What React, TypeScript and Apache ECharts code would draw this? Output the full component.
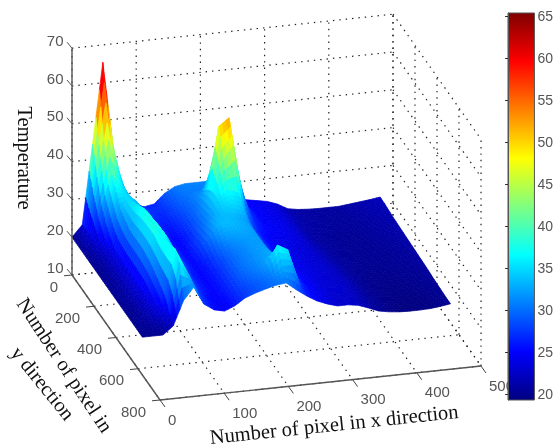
import React, { useEffect, useRef } from "react";
import * as echarts from "echarts";

const xTicks = [0, 100, 200, 300, 400, 500];
const yTicks = [0, 200, 400, 600, 800];
const zTicks = [10, 20, 30, 40, 50, 60, 70];
const colorTicks = [20, 25, 30, 35, 40, 45, 50, 55, 60, 65];
const colorMin = 19.3;
const colorMax = 65.36;

// surface samples: columns are pixel x, one row per pixel y
const surfaceX = [0, 16, 32, 48, 64, 80, 96, 112, 128, 144, 160, 176, 192, 208, 224, 240, 256, 272, 288, 304, 320, 336, 352, 368, 384, 400, 416, 432, 448, 464, 480];
const surfaceY = [0, 40, 80, 120, 160, 200, 240, 280, 320, 360, 400, 440, 480, 520, 560, 600, 640];
const row000 = [20, 23, 44, 65.4, 43, 31, 27, 26, 26.5, 29, 30.5, 31, 31, 31, 30, 28, 26, 25, 24.5, 24, 23, 21.5, 21, 20.8, 20.7, 20.7, 20.7, 21, 21.3, 21.6, 22];
const row040 = [20, 23, 37, 51, 37, 31.5, 28.5, 27, 27, 28.5, 30, 30.5, 30.5, 31, 32, 29, 26, 25, 24.5, 24, 23, 21.5, 21, 20.8, 20.7, 20.7, 20.7, 21, 21.3, 21.6, 21.9];
const row080 = [20, 23, 31, 39, 35.5, 32, 29, 27, 26.5, 28, 29.5, 30.5, 32, 41, 48, 40, 27, 25, 24.5, 24, 23, 21.5, 21, 20.8, 20.6, 20.6, 20.6, 20.8, 21, 21.4, 21.7];
const row120 = [20, 22, 28, 36, 35, 33, 29, 26.5, 26, 27.5, 29, 30.5, 34, 50.5, 52.5, 34.5, 27, 25, 24.5, 24, 23, 21.5, 21, 20.7, 20.5, 20.5, 20.5, 20.7, 20.9, 21.2, 21.5];
const row160 = [20, 21.5, 26, 33, 35.3, 33, 29, 26.5, 25.5, 27, 29, 31, 35, 43, 47, 31, 26.5, 25, 24.5, 24, 23, 21.5, 20.8, 20.6, 20.4, 20.4, 20.4, 20.6, 20.8, 21.1, 21.4];
const row200 = [20, 21, 24.5, 32, 36, 33.5, 29, 26, 25, 26.5, 29, 31.5, 35, 37, 36, 29, 26, 25, 24.5, 24, 23, 21.5, 20.8, 20.5, 20.3, 20.3, 20.3, 20.5, 20.7, 21, 21.3];
const row240 = [20, 21, 24.5, 31, 37, 34, 29.5, 26, 25, 26.5, 29.5, 32, 34, 35, 34, 28, 25.5, 24.5, 24.2, 23.8, 23, 21.8, 20.8, 20.5, 20.3, 20.2, 20.2, 20.4, 20.6, 20.9, 21.2];
const row280 = [20, 21, 24, 31, 38, 34, 30, 26.5, 25, 27, 30, 33, 33.5, 33, 32, 28, 25.5, 24.5, 24, 23.6, 23, 22, 21, 20.5, 20.2, 20.2, 20.2, 20.3, 20.5, 20.8, 21.1];
const row320 = [20, 21, 24, 31, 38.5, 34.5, 30, 26.5, 25, 27, 30.5, 33.5, 33.5, 33, 32, 28, 25.5, 24.5, 24, 23.5, 23, 22, 21, 20.5, 20.3, 20.2, 20.2, 20.2, 20.4, 20.6, 21];
const row360 = [20, 21, 24, 31, 38.5, 35, 30, 26.5, 25, 26.5, 29.5, 32, 32.5, 32.5, 32, 28, 25.5, 24.5, 24, 23.5, 23, 22.2, 21.2, 20.5, 20.2, 20.1, 20.1, 20.2, 20.3, 20.5, 20.9];
const row400 = [20, 21, 24, 30.5, 39, 35, 30, 26.5, 25, 26, 28.5, 30.5, 31.5, 32, 32, 28, 25.5, 24.5, 24, 23.5, 23, 22.3, 21.3, 20.5, 20.1, 20, 20, 20.1, 20.2, 20.4, 20.8];
const row440 = [20, 21, 24, 30, 38, 34, 29, 26, 25, 26, 28, 30, 31, 32, 32, 29, 25.5, 24.5, 24, 23.4, 23, 22.4, 21.4, 20.5, 20, 19.9, 19.9, 20, 20.1, 20.3, 20.7];
const row480 = [20, 20.5, 23.5, 29, 38, 33.5, 28.5, 26, 25, 26, 28, 30, 31, 32, 32.5, 29.5, 26, 25, 24, 23.3, 23, 22.5, 21.5, 20.5, 20, 19.8, 19.7, 19.8, 19.9, 20.2, 20.5];
const row520 = [20, 20.5, 23, 28, 38.3, 33, 28, 26, 25, 26, 28, 30, 31, 32, 33, 31, 26.5, 25, 24, 23.2, 22.9, 22.5, 21.5, 20.5, 20, 19.7, 19.6, 19.7, 19.8, 20.1, 20.4];
const row560 = [20, 20.5, 22.5, 27, 39, 33.5, 28, 25.5, 24.8, 26, 28, 29.5, 30.5, 32, 37, 35.5, 27, 25, 24, 23.1, 22.9, 22.5, 21.5, 20.4, 19.9, 19.6, 19.5, 19.5, 19.7, 20, 20.3];
const row600 = [20, 20.3, 21, 24.5, 37, 33, 27.5, 25.5, 24.6, 25.7, 27.5, 28.5, 29.5, 30.5, 33, 33, 26.5, 24.8, 23.8, 23, 22.8, 22.4, 21.4, 20.4, 19.9, 19.5, 19.4, 19.4, 19.6, 19.9, 20.2];
const row640 = [20, 20, 20, 22.1, 28.5, 31.8, 27, 25.2, 24.6, 25.7, 27.5, 28.5, 29.3, 30, 30.3, 28.2, 26.3, 24.7, 23.6, 22.8, 22.8, 22.4, 21.4, 20.3, 19.8, 19.5, 19.4, 19.4, 19.5, 19.8, 20.2];
const surfaceZ = [row000, row040, row080, row120, row160, row200, row240, row280, row320, row360, row400, row440, row480, row520, row560, row600, row640];

const texts = {
  x: "Number of pixel in x direction",
  y1: "Number of pixel in",
  y2: "y direction",
  z: "Temperature",
};

// the box's orthographic view
function project(x: number, y: number, z: number) {
  return [
    72 + (x / 500) * 321 + (y / 800) * 88,
    275 - (x / 500) * 34 + (y / 800) * 125 - (z - 10) * 3.78,
  ];
}

const JET: [number, number[]][] = [
  [0, [0, 0, 128]],
  [0.125, [0, 0, 255]],
  [0.375, [0, 255, 255]],
  [0.625, [255, 255, 0]],
  [0.875, [255, 0, 0]],
  [1, [128, 0, 0]],
];

function jet(z: number) {
  const t = Math.max(0, Math.min(1, (z - colorMin) / (colorMax - colorMin)));
  for (let i = 1; i < JET.length; i++) {
    if (t <= JET[i][0]) {
      const f = (t - JET[i - 1][0]) / (JET[i][0] - JET[i - 1][0]);
      const a = JET[i - 1][1];
      const b = JET[i][1];
      return `rgb(${Math.round(a[0] + (b[0] - a[0]) * f)},${Math.round(a[1] + (b[1] - a[1]) * f)},${Math.round(a[2] + (b[2] - a[2]) * f)})`;
    }
  }
  return "rgb(128,0,0)";
}

const GRAY = "#555555";
const SANS = '"Liberation Sans", Arial, sans-serif';
const SERIF = '"Liberation Serif", "Times New Roman", serif';
const SUB = 3;

function buildOption() {
  const wallLines: number[][] = [];
  xTicks.forEach((x) => {
    wallLines.push([x, 0, 10, x, 0, 70]);
    wallLines.push([x, 0, 10, x, 800, 10]);
  });
  yTicks.forEach((y) => {
    wallLines.push([500, y, 10, 500, y, 70]);
    wallLines.push([0, y, 10, 500, y, 10]);
  });
  zTicks.forEach((z) => {
    wallLines.push([0, 0, z, 500, 0, z]);
    wallLines.push([500, 0, z, 500, 800, z]);
  });

  const axisLines = [
    [0, 0, 10, 0, 0, 70],
    [0, 0, 10, 0, 800, 10],
    [0, 800, 10, 500, 800, 10],
  ];

  const cells: number[][] = [];
  for (let j = 0; j < surfaceY.length - 1; j++) {
    for (let i = surfaceX.length - 2; i >= 0; i--) cells.push([i, j]);
  }

  const lineItem = (api: any, p: number[], stroke: string, width: number, dash?: number[]) => {
    const a = api.coord(project(p[0], p[1], p[2]));
    const b = api.coord(project(p[3], p[4], p[5]));
    return {
      type: "line",
      shape: { x1: a[0], y1: a[1], x2: b[0], y2: b[1] },
      style: { stroke, lineWidth: width, lineDash: dash, fill: "none" },
      silent: true,
    };
  };

  const tickLabel = (text: string, pos: number[], align: string, z2 = 0) => ({
    type: "text",
    x: pos[0],
    y: pos[1],
    z2,
    silent: true,
    style: { text, fill: GRAY, font: `15px ${SANS}`, align, verticalAlign: "middle" },
  });

  const base = { xAxisIndex: 0, yAxisIndex: 0, silent: true, animation: false, clip: false };
  const titleFont = `20.5px ${SERIF}`;

  return {
    animation: false,
    backgroundColor: "#ffffff",
    grid: [
      { left: 0, top: 0, width: 556, height: 448 },
      { left: 508, top: 13, width: 30, height: 387 },
    ],
    xAxis: [
      { type: "value", min: 0, max: 556, show: false, gridIndex: 0 },
      { type: "value", min: 0, max: 1, show: false, gridIndex: 1 },
    ],
    yAxis: [
      { type: "value", min: 0, max: 448, inverse: true, show: false, gridIndex: 0 },
      {
        type: "value",
        gridIndex: 1,
        position: "right",
        min: colorMin,
        max: colorMax,
        splitLine: { show: false },
        axisLine: { show: true, lineStyle: { color: GRAY, width: 1 } },
        axisTick: { show: true, inside: true, length: 3, customValues: colorTicks, lineStyle: { color: "#333333" } },
        axisLabel: {
          show: true,
          margin: 3,
          customValues: colorTicks,
          color: GRAY,
          fontFamily: SANS,
          fontSize: 14,
          hideOverlap: false,
          showMinLabel: true,
          showMaxLabel: true,
        },
        z: 20,
      },
    ],
    series: [
      {
        ...base,
        id: "walls",
        type: "custom",
        z: 1,
        data: wallLines,
        renderItem: (_: any, api: any) =>
          lineItem(api, [0, 1, 2, 3, 4, 5].map((d) => api.value(d)), "#222222", 1.2, [1.4, 5]),
      },
      {
        ...base,
        id: "surface",
        type: "custom",
        z: 2,
        data: cells,
        renderItem: (_: any, api: any) => {
          const i = api.value(0);
          const j = api.value(1);
          const x0 = surfaceX[i];
          const x1 = surfaceX[i + 1];
          const y0 = surfaceY[j];
          const y1 = surfaceY[j + 1];
          const z00 = surfaceZ[j][i];
          const z10 = surfaceZ[j][i + 1];
          const z01 = surfaceZ[j + 1][i];
          const z11 = surfaceZ[j + 1][i + 1];
          const at = (u: number, v: number) => {
            const z = (1 - u) * (1 - v) * z00 + u * (1 - v) * z10 + (1 - u) * v * z01 + u * v * z11;
            return { p: api.coord(project(x0 + (x1 - x0) * u, y0 + (y1 - y0) * v, z)), z };
          };
          const children: any[] = [];
          for (let b = 0; b < SUB; b++) {
            for (let a = SUB - 1; a >= 0; a--) {
              const u0 = a / SUB;
              const u1 = (a + 1) / SUB;
              const v0 = b / SUB;
              const v1 = (b + 1) / SUB;
              const color = jet(at((u0 + u1) / 2, (v0 + v1) / 2).z);
              children.push({
                type: "polygon",
                silent: true,
                shape: { points: [at(u0, v0).p, at(u1, v0).p, at(u1, v1).p, at(u0, v1).p] },
                style: { fill: color, stroke: color, lineWidth: 0.7 },
              });
            }
          }
          return { type: "group", silent: true, children };
        },
      },
      {
        ...base,
        id: "axes",
        type: "custom",
        z: 3,
        data: axisLines,
        renderItem: (_: any, api: any) =>
          lineItem(api, [0, 1, 2, 3, 4, 5].map((d) => api.value(d)), GRAY, 1.4),
      },
      {
        ...base,
        id: "zTicks",
        type: "custom",
        z: 4,
        data: zTicks.map((z) => [z]),
        renderItem: (_: any, api: any) => {
          const z = api.value(0);
          const a = api.coord(project(0, 0, z));
          return {
            type: "group",
            silent: true,
            children: [
              { type: "line", silent: true, shape: { x1: a[0], y1: a[1], x2: a[0] - 5, y2: a[1] - 6 }, style: { stroke: GRAY, lineWidth: 1 } },
              tickLabel(String(z), [a[0] - 8.5, a[1] - 8], "right"),
            ],
          };
        },
      },
      {
        ...base,
        id: "yTicks",
        type: "custom",
        z: 4,
        data: yTicks.map((y) => [y]),
        renderItem: (_: any, api: any) => {
          const y = api.value(0);
          const a = api.coord(project(0, y, 10));
          return {
            type: "group",
            silent: true,
            children: [
              { type: "line", silent: true, shape: { x1: a[0], y1: a[1], x2: a[0] - 8, y2: a[1] + 0.8 }, style: { stroke: "#444444", lineWidth: 1 } },
              tickLabel(String(y), [a[0] - 14, a[1] + 11], "right"),
            ],
          };
        },
      },
      {
        ...base,
        id: "xTicks",
        type: "custom",
        z: 4,
        data: xTicks.map((x) => [x]),
        renderItem: (_: any, api: any) => {
          const x = api.value(0);
          const a = api.coord(project(x, 800, 10));
          return {
            type: "group",
            silent: true,
            children: [
              { type: "line", silent: true, shape: { x1: a[0], y1: a[1], x2: a[0] + 5, y2: a[1] + 7 }, style: { stroke: "#444444", lineWidth: 1 } },
              tickLabel(String(x), [a[0] + 8, a[1] + 19], "left"),
            ],
          };
        },
      },
      {
        id: "colorbar",
        type: "custom",
        xAxisIndex: 1,
        yAxisIndex: 1,
        silent: true,
        animation: false,
        z: 10,
        data: [[0, colorMin, 1, colorMax]],
        renderItem: (_: any, api: any) => {
          const a = api.coord([api.value(0), api.value(1)]);
          const b = api.coord([api.value(2), api.value(3)]);
          return {
            type: "rect",
            silent: true,
            shape: { x: a[0], y: b[1], width: b[0] - a[0], height: a[1] - b[1] },
            style: {
              stroke: GRAY,
              lineWidth: 1,
              fill: new echarts.graphic.LinearGradient(
                0, 1, 0, 0,
                JET.map(([offset, c]) => ({ offset, color: `rgb(${c[0]},${c[1]},${c[2]})` }))
              ),
            },
          };
        },
      },
    ],
    graphic: [
      { type: "text", silent: true, x: 25, y: 158, rotation: -Math.PI / 2, style: { text: texts.z, fill: "#111111", font: titleFont, align: "center", verticalAlign: "middle" } },
      { type: "text", silent: true, x: 65, y: 365, rotation: (-56.5 * Math.PI) / 180, style: { text: texts.y1, fill: "#111111", font: titleFont, align: "center", verticalAlign: "middle" } },
      { type: "text", silent: true, x: 43, y: 383, rotation: (-51 * Math.PI) / 180, style: { text: texts.y2, fill: "#111111", font: titleFont, align: "center", verticalAlign: "middle" } },
      { type: "text", silent: true, x: 334, y: 424, rotation: (6 * Math.PI) / 180, style: { text: texts.x, fill: "#111111", font: titleFont, align: "center", verticalAlign: "middle" } },
    ],
  };
}

export default function App() {
  const ref = useRef<HTMLDivElement>(null);
  useEffect(() => {
    if (!ref.current) return;
    const chart = echarts.init(ref.current, undefined, { renderer: "svg" });
    chart.setOption(buildOption() as any);
    return () => chart.dispose();
  }, []);
  return <div ref={ref} style={{ position: "absolute", left: 0, top: 0, width: 556, height: 448, filter: "blur(0.4px)" }} />;
}
